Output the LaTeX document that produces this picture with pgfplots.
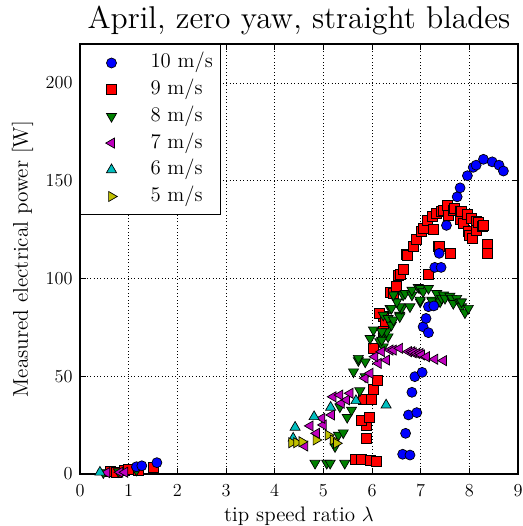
\documentclass[border=0pt]{standalone}
\usepackage{fontspec}
\setmainfont{lmroman12-regular.otf}[BoldFont=lmroman12-bold.otf, ItalicFont=lmroman12-italic.otf]
\usepackage{pgfplots}
\pgfplotsset{compat=1.18}
\definecolor{mblue}{rgb}{0,0,1}
\definecolor{mred}{rgb}{1,0,0}
\definecolor{mgreen}{rgb}{0,0.5,0}
\definecolor{mmag}{rgb}{0.75,0,0.75}
\definecolor{mcyan}{rgb}{0,0.75,0.75}
\definecolor{myel}{rgb}{0.75,0.75,0}
\pgfplotsset{
  s10/.style={only marks, mark=*, mark size=5pt, mark options={draw=black, fill=mblue, line width=0.7pt}},
  s9/.style={only marks, mark=square*, mark size=5pt, mark options={draw=black, fill=mred, line width=0.7pt}},
  s8/.style={only marks, mark=triangle*, mark size=5.8pt, mark options={draw=black, fill=mgreen, line width=0.7pt, rotate=180}},
  s7/.style={only marks, mark=triangle*, mark size=5.8pt, mark options={draw=black, fill=mmag, line width=0.7pt, rotate=90}},
  s6/.style={only marks, mark=triangle*, mark size=5.8pt, mark options={draw=black, fill=mcyan, line width=0.7pt}},
  s5/.style={only marks, mark=triangle*, mark size=5.8pt, mark options={draw=black, fill=myel, line width=0.7pt, rotate=-90}},
  legimg/.style={legend image code/.code={\path[draw=none,fill=none] (0pt,-0.1pt) rectangle (46pt,0.1pt); \draw[mark repeat=2,mark phase=2,##1,draw=none] plot coordinates {(0pt,0pt) (23pt,0pt) (46pt,0pt)};}},
}
\begin{document}
\begin{tikzpicture}
\useasboundingbox (-80pt,-52pt) rectangle (442pt,474pt);
\begin{axis}[
  at={(0,0)}, anchor=south west,
  scale only axis, width=438pt, height=430pt,
  xmin=0, xmax=9, ymin=0, ymax=220,
  xtick={0,1,2,3,4,5,6,7,8,9},
  ytick={0,50,100,150,200},
  /pgf/number format/assume math mode=true,
  tick align=inside,
  xtick pos=both, ytick pos=both,
  major tick length=5.6pt,
  tick style={black, line width=0.9pt},
  axis line style={black, line width=1.1pt},
  grid=major,
  major grid style={black, line width=0.7pt, dash pattern=on 1pt off 2.4pt},
  xticklabel style={font=\fontsize{18.3}{20}\selectfont, anchor=base, yshift=-22.7pt},
  yticklabel style={font=\fontsize{18.3}{20}\selectfont, anchor=east, inner sep=0pt, xshift=-7.3pt},
  title={April, zero yaw, straight blades},
  title style={font=\fontsize{31.5}{36}\selectfont, at={(axis description cs:0.5,1)}, anchor=base, yshift=9pt},
  xlabel={tip speed ratio $\lambda$},
  xlabel style={font=\fontsize{21}{24}\selectfont, at={(axis description cs:0.5,-0.111)}, anchor=base},
  ylabel={Measured electrical power [W]},
  ylabel style={font=\fontsize{21.3}{24}\selectfont, at={(axis description cs:-0.131,0.5)}, anchor=center},
  legend cell align=left,
  legend style={at={(0,1)}, anchor=north west, draw=black, line width=1pt, fill=white,
    inner xsep=8pt, inner ysep=8.5pt, row sep=6.7pt, column sep=16pt,
    font=\fontsize{20.8}{24}\selectfont,
    nodes={inner sep=0pt, text height=15pt, text depth=5pt}},
]
\addlegendimage{s10, legimg}\addlegendentry{10 m/s}
\addlegendimage{s9, legimg}\addlegendentry{9 m/s}
\addlegendimage{s8, legimg}\addlegendentry{8 m/s}
\addlegendimage{s7, legimg}\addlegendentry{7 m/s}
\addlegendimage{s6, legimg}\addlegendentry{6 m/s}
\addlegendimage{s5, legimg}\addlegendentry{5 m/s}

% 9 m/s
\addplot[s9, forget plot] coordinates {
(0.62,1.2)(0.75,0.9)(0.92,1.7)(0.99,2.2)(1.20,1.7)(1.51,3.4)
(5.65,7.5)(5.79,7.5)(5.96,7.2)(6.08,6.6)(5.88,18.3)(5.89,25.1)(5.79,27.6)(5.94,29)
(5.82,38.2)(5.99,38.2)(6.03,43.3)(6.10,48.1)(6.03,64.3)(6.23,72.8)(6.23,80.5)(6.30,78.8)
(6.16,82.2)(6.27,77.9)(6.37,92.7)(6.44,92.4)(6.51,95.8)(6.54,101.8)(6.58,102.3)(6.64,104.9)
(6.71,112.2)(6.73,112)(6.85,116.5)(6.92,119.8)(7.02,123.9)(7.05,125.8)(7.14,129.6)
(7.23,131.8)(7.26,125)(7.33,133.5)(7.36,116.5)(7.43,134.4)(7.47,135)(7.55,137.4)
(7.57,132.1)(7.67,135)(7.70,136)(7.81,134.4)(7.81,130.4)(7.84,134.2)(7.88,128.4)
(7.95,132.6)(7.98,124.1)(8.01,122.3)(8.05,130.9)(8.06,120.4)(8.15,129.3)(8.15,124.8)
(8.18,129)(8.27,126.7)(8.29,127)(8.36,117.3)(8.36,113)(7.16,102)(7.60,113)(7.38,116.3)
};
% 8 m/s
\addplot[s8, forget plot] coordinates {
(0.48,0.7)(0.79,1.2)(1.16,2)
(4.83,5.5)(5.07,5.5)(5.14,5.5)(5.44,5.5)(5.24,14)(5.31,19.9)(5.41,21.1)(5.49,29)
(5.58,32.7)(5.34,34.4)(5.75,42.6)(5.62,52.3)(5.86,49.8)(5.72,58)(5.86,57.4)(5.72,59.2)
(5.96,69.4)(6.03,73.7)(6.16,67.7)(6.23,65.1)(6.23,70.2)(6.33,70.2)(6.30,72.8)(6.20,72.8)
(6.20,68.5)(6.23,81.3)(6.33,79.6)(6.40,76.2)(6.44,78.8)(6.57,81.3)(6.57,80.5)(6.37,84.8)
(6.40,84.8)(6.61,84.8)(6.57,85.6)(6.78,85.6)(6.51,88.1)(6.44,91.6)(6.64,91.6)(6.68,92.4)
(6.82,91.6)(6.82,94.1)(6.95,95.5)(6.99,95)(6.99,88.1)(6.99,89)(7.05,93.3)(7.16,95)
(7.23,89)(7.23,88.6)(7.33,92.4)(7.40,88.1)(7.43,89.9)(7.47,91.6)(7.50,89.9)(7.60,91)
(7.64,89.9)(7.67,87.3)(7.74,89.9)(7.81,88.1)(7.84,85.6)(7.84,88.1)(7.91,82.5)(7.98,84.8)
};
% 7 m/s
\addplot[s7, forget plot] coordinates {
(0.55,0.7)(0.82,0.9)(0.92,0.9)
(4.62,14.3)(4.86,20.8)(4.73,24.6)(5.00,25.1)(4.97,28.5)(5.17,30.2)(5.37,36.2)(5.48,37.9)
(5.20,39.5)(5.34,40.4)(5.55,41.3)(5.86,49)(5.96,51.5)(6.13,56.6)(6.30,58.3)(6.06,60)
(6.20,62.6)(6.37,63.4)(6.44,63.4)(6.57,64.3)(6.75,62.6)(6.82,62.6)(6.85,62)(6.92,61.7)
(6.99,61.7)(7.02,60.9)(7.12,60)(7.29,58.7)(7.47,58)
};
% 6 m/s
\addplot[s6, forget plot] coordinates {
(0.41,0.9)(4.38,18.3)(4.42,23.9)(4.81,29.3)(5.15,34.1)(5.67,37.5)(6.29,35.3)
};
% 5 m/s
\addplot[s5, forget plot] coordinates {
(4.35,16)(4.45,16)(4.56,16.5)(4.85,17.4)(5.10,19.9)(5.20,17.4)(5.27,15.7)
};
% 10 m/s
\addplot[s10, forget plot] coordinates {
(1.16,3.7)(1.27,4.2)(1.58,5.8)
(6.63,10.1)(6.78,9.7)(6.69,20.8)(6.75,30.2)(6.92,31.4)(6.82,41.8)(6.88,49.8)(7.03,52)
(7.05,75.3)(7.16,72.3)(7.11,79.6)(7.16,85.6)(7.27,86)(7.29,105.7)(7.42,105.7)(7.38,112.9)
(7.53,127.2)(7.75,141.8)(7.81,146.4)(7.96,152.6)(8.08,156.9)(8.14,158)(8.29,161)
(8.47,159.7)(8.61,158)(8.70,155)
};
\end{axis}
\end{tikzpicture}
\end{document}
